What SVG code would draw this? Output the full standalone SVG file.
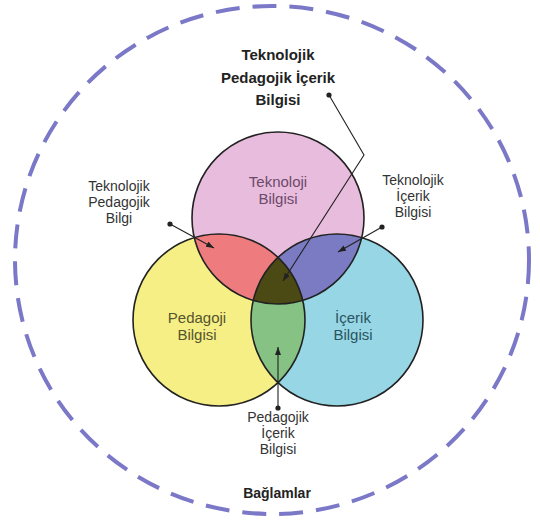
<svg xmlns="http://www.w3.org/2000/svg" width="540" height="525" viewBox="0 0 540 525">
<style>
.lbl{font-family:"Liberation Sans",Arial,sans-serif;font-size:14px;fill:#333;text-anchor:middle}
.big{font-size:15px}
.bold{font-weight:bold;font-size:15px;fill:#222}
.circ{stroke:#222;stroke-width:1.6;fill:none}
.conn{stroke:#222;stroke-width:1.1;fill:none}
</style>
<defs>
<clipPath id="cpPink"><circle cx="278" cy="218" r="86"/></clipPath>
<clipPath id="cpYellow"><circle cx="219" cy="320" r="86"/></clipPath>
<clipPath id="cpBlue"><circle cx="337" cy="320" r="86"/></clipPath>
<marker id="arrow" markerUnits="userSpaceOnUse" markerWidth="10" markerHeight="8" refX="8" refY="3" orient="auto"><path d="M0,0 L8,3 L0,6 z" fill="#222"/></marker>
<marker id="dot" markerUnits="userSpaceOnUse" markerWidth="8" markerHeight="8" refX="4" refY="4"><circle cx="4" cy="4" r="2.6" fill="#222"/></marker>
</defs>
<rect width="540" height="525" fill="#fff"/>
<g id="context">
<ellipse cx="272" cy="260" rx="257" ry="254" fill="none" stroke="#7b78c8" stroke-width="4" stroke-dasharray="24 13"/>
<text class="lbl bold" x="277" y="498" style="font-size:14px">Bağlamlar</text>
</g>
<g id="fills">
<circle cx="278" cy="218" r="86" fill="#e8bcdc"/>
<circle cx="219" cy="320" r="86" fill="#f6ef86"/>
<circle cx="337" cy="320" r="86" fill="#97d6e4"/>
<g clip-path="url(#cpPink)"><circle cx="219" cy="320" r="86" fill="#ee7c7f"/><circle cx="337" cy="320" r="86" fill="#7a7bc2"/></g>
<g clip-path="url(#cpYellow)"><circle cx="337" cy="320" r="86" fill="#86c283"/></g>
<g clip-path="url(#cpYellow)"><g clip-path="url(#cpBlue)"><circle cx="278" cy="218" r="86" fill="#4c4a14"/></g></g>
</g>
<g id="technology">
<circle class="circ" cx="278" cy="218" r="86"/>
<text class="lbl big" x="278" y="187" style="fill:#6b4a6b">Teknoloji</text>
<text class="lbl big" x="278" y="204" style="fill:#6b4a6b">Bilgisi</text>
</g>
<g id="pedagogy">
<circle class="circ" cx="219" cy="320" r="86"/>
<text class="lbl big" x="197" y="323" style="fill:#55552e">Pedagoji</text>
<text class="lbl big" x="197" y="340" style="fill:#55552e">Bilgisi</text>
</g>
<g id="content">
<circle class="circ" cx="337" cy="320" r="86"/>
<text class="lbl big" x="353" y="323" style="fill:#2a5560">İçerik</text>
<text class="lbl big" x="353" y="340" style="fill:#2a5560">Bilgisi</text>
</g>
<g id="tpack">
<text class="lbl bold" x="278" y="60">Teknolojik</text>
<text class="lbl bold" x="278" y="83">Pedagojik İçerik</text>
<text class="lbl bold" x="278" y="105">Bilgisi</text>
</g>
<g id="tpk">
<text class="lbl" x="119" y="191">Teknolojik</text>
<text class="lbl" x="119" y="207">Pedagojik</text>
<text class="lbl" x="119" y="223">Bilgi</text>
</g>
<g id="tck">
<text class="lbl" x="413" y="185">Teknolojik</text>
<text class="lbl" x="413" y="201">İçerik</text>
<text class="lbl" x="413" y="217">Bilgisi</text>
</g>
<g id="pck">
<text class="lbl" x="278" y="422">Pedagojik</text>
<text class="lbl" x="278" y="438">İçerik</text>
<text class="lbl" x="278" y="454">Bilgisi</text>
</g>
<g id="connectors">
<polyline class="conn" points="329,95 364,155 283,281" marker-start="url(#dot)" marker-end="url(#arrow)"/>
<line class="conn" x1="170" y1="224" x2="214" y2="248" marker-start="url(#dot)" marker-end="url(#arrow)"/>
<line class="conn" x1="382" y1="227" x2="338" y2="252" marker-start="url(#dot)" marker-end="url(#arrow)"/>
<line class="conn" x1="278" y1="408" x2="278" y2="347" marker-start="url(#dot)" marker-end="url(#arrow)"/>
</g>
</svg>
